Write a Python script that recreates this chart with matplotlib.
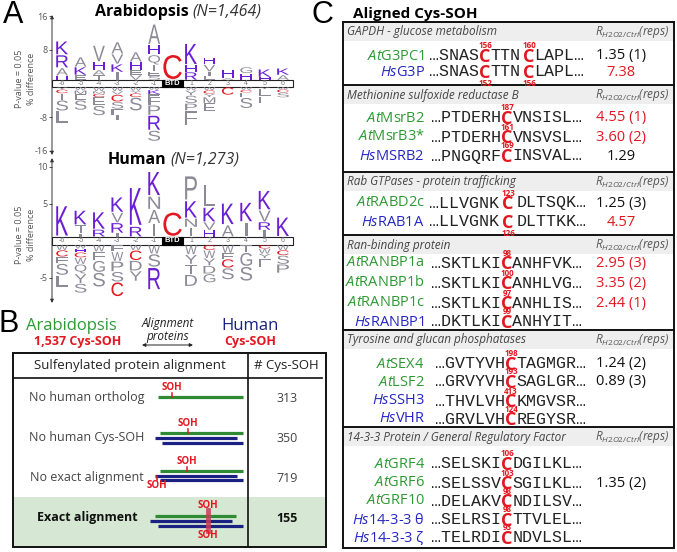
import matplotlib
matplotlib.use('Agg')
import matplotlib.pyplot as plt
from matplotlib.textpath import TextPath
from matplotlib.font_manager import FontProperties
from matplotlib.patches import PathPatch, Rectangle
from matplotlib.transforms import Affine2D

plt.rcParams['font.family'] = ['Open Sans', 'DejaVu Sans']
plt.rcParams['mathtext.fontset'] = 'custom'
plt.rcParams['mathtext.rm'] = 'Open Sans'
plt.rcParams['mathtext.it'] = 'Open Sans:italic'
plt.rcParams['mathtext.bf'] = 'Open Sans:bold'

# ---------------- data ----------------
positions = [-6, -5, -4, -3, -2, -1, 0, 1, 2, 3, 4, 5, 6]

# Arabidopsis logo (% difference), up stacks listed from baseline upward,
# down stacks listed from baseline downward
ath_up = [
    [('H', 1.0), ('A', 1.9), ('R', 3.1), ('K', 3.3)],
    [('E', 1.2), ('K', 1.9), ('A', 2.4)],
    [('T', 1.2), ('A', 1.2), ('H', 1.9), ('V', 4.0)],
    [('I', 1.9), ('K', 1.9), ('V', 2.4), ('A', 2.9)],
    [('V', 1.2), ('E', 1.2), ('H', 1.9), ('A', 2.4)],
    [('S', 1.0), ('E', 1.0), ('I', 1.6), ('Q', 2.4), ('H', 2.4), ('A', 5.0)],
    [('C', 6.2)],
    [('R', 1.9), ('H', 1.7), ('K', 5.2)],
    [('E', 1.0), ('I', 1.0), ('V', 1.7), ('H', 1.7)],
    [('A', 0.5), ('H', 1.9)],
    [('H', 1.6), ('G', 1.5)],
    [('H', 0.7), ('K', 1.9)],
    [('A', 1.2), ('K', 1.6)],
]
ath_down = [
    [('Y', 0.6), ('C', 0.9), ('I', 1.6), ('S', 2.6), ('L', 2.9)],
    [('W', 0.8), ('M', 0.9), ('E', 1.4), ('S', 2.4)],
    [('W', 1.0), ('M', 0.6), ('C', 0.8), ('E', 2.0), ('S', 2.4)],
    [('W', 1.0), ('V', 0.8), ('C', 1.7), ('S', 1.7), ('F', 1.4), ('I', 1.2)],
    [('W', 0.9), ('Y', 0.6), ('C', 0.9), ('S', 3.3)],
    [('W', 0.7), ('K', 1.0), ('E', 0.7), ('F', 1.9), ('P', 2.4), ('R', 3.6), ('S', 2.6)],
    [],
    [('W', 0.8), ('Y', 1.2), ('S', 1.9), ('P', 1.7), ('F', 3.6)],
    [('W', 0.8), ('C', 0.8), ('Y', 0.8), ('M', 1.4), ('E', 2.0)],
    [('C', 1.9)],
    [('W', 0.7), ('C', 0.6), ('E', 1.2), ('S', 2.6)],
    [('Y', 0.5), ('L', 1.7), ('F', 1.7)],
    [('W', 0.6), ('C', 0.7), ('S', 1.2)],
]

# Human logo (% difference)
hum_up = [
    [('K', 4.3)],
    [('I', 0.4), ('T', 1.2), ('K', 2.0)],
    [('R', 1.0), ('K', 2.4)],
    [('I', 0.5), ('R', 1.4), ('V', 1.4), ('K', 2.1)],
    [('R', 1.4), ('K', 5.4)],
    [('I', 1.8), ('A', 1.9), ('N', 1.8), ('K', 3.4)],
    [('C', 3.4)],
    [('I', 1.3), ('N', 1.2), ('K', 2.4), ('P', 3.4)],
    [('H', 0.9), ('V', 1.1), ('K', 2.0), ('L', 3.1)],
    [('A', 1.6), ('K', 3.0)],
    [('I', 2.0), ('K', 2.7)],
    [('I', 0.9), ('R', 1.1), ('V', 1.6), ('K', 2.7)],
    [('K', 2.7)],
]
hum_down = [
    [('W', 0.7), ('C', 0.9), ('F', 0.9), ('S', 1.6), ('L', 1.6)],
    [('W', 0.5), ('H', 0.5), ('C', 0.7), ('W', 0.9), ('Q', 1.3), ('Y', 1.3), ('S', 1.3)],
    [('W', 0.9), ('F', 1.2), ('G', 1.6), ('S', 2.0)],
    [('F', 0.9), ('W', 1.3), ('P', 1.4), ('S', 1.4), ('C', 2.0)],
    [('W', 0.7), ('C', 1.4), ('D', 1.4), ('Y', 1.4)],
    [('W', 1.2), ('S', 1.8), ('R', 3.1)],
    [],
    [('W', 1.3), ('Y', 1.3), ('T', 1.4), ('D', 1.6)],
    [('C', 0.7), ('W', 1.1), ('Y', 1.0), ('D', 1.1), ('G', 1.2)],
    [('W', 1.1), ('F', 0.8), ('C', 1.2), ('S', 1.6)],
    [('T', 1.0), ('G', 1.9), ('S', 2.0)],
    [('C', 0.5), ('W', 0.7), ('Y', 0.6), ('F', 1.2)],
    [('W', 0.7), ('C', 0.7), ('S', 1.2), ('P', 1.2)],
]

# Panel B table
b_rows = ["No human ortholog", "No human Cys-SOH", "No exact alignment", "Exact alignment"]
b_counts = [313, 350, 719, 155]

# Panel C
c_titles = ["GAPDH - glucose metabolism", "Methionine sulfoxide reductase B",
            "Rab GTPases - protein trafficking", "Ran-binding protein",
            "Tyrosine and glucan phosphatases", "14-3-3 Protein / General Regulatory Factor"]
c_names = [
    [("At", "G3PC1"), ("Hs", "G3P")],
    [("At", "MsrB2"), ("At", "MsrB3*"), ("Hs", "MSRB2")],
    [("At", "RABD2c"), ("Hs", "RAB1A")],
    [("At", "RANBP1a"), ("At", "RANBP1b"), ("At", "RANBP1c"), ("Hs", "RANBP1")],
    [("At", "SEX4"), ("At", "LSF2"), ("Hs", "SSH3"), ("Hs", "VHR")],
    [("At", "GRF4"), ("At", "GRF6"), ("At", "GRF10"), ("Hs", "14-3-3 θ"), ("Hs", "14-3-3 ζ")],
]
c_seqs = [
    ["…SNAS|TTN|LAPL…", "…SNAS|TTN|LAPL…"],
    ["…PTDERH|VNSISL…", "…PTDERH|VNSVSL…", "…PNGQRF|INSVAL…"],
    ["…LLVGNK|DLTSQK…", "…LLVGNK|DLTTKK…"],
    ["…SKTLKI|ANHFVK…", "…SKTLKI|ANHLVG…", "…SKTLKI|ANHLIS…", "…DKTLKI|ANHYIT…"],
    ["…GVTYVH|TAGMGR…", "…GRVYVH|SAGLGR…", "…THVLVH|KMGVSR…", "…GRVLVH|REGYSR…"],
    ["…SELSKI|DGILKL…", "…SELSSV|SGILKL…", "…DELAKV|NDILSV…", "…SELRSI|TTVLEL…", "…TELRDI|NDVLSL…"],
]
c_sites = [
    [["156", "160"], ["152", "156"]],
    [["187"], ["161"], ["169"]],
    [["123"], ["126"]],
    [["98"], ["100"], ["97"], ["99"]],
    [["198"], ["193"], ["413"], ["124"]],
    [["106"], ["103"], ["98"], ["98"], ["93"]],
]
c_values = [
    [("1.35 (1)", False), ("7.38", True)],
    [("4.55 (1)", True), ("3.60 (2)", True), ("1.29", False)],
    [("1.25 (3)", False), ("4.57", True)],
    [("2.95 (3)", True), ("3.35 (2)", True), ("2.44 (1)", True), ("", False)],
    [("1.24 (2)", False), ("0.89 (3)", False), ("", False), ("", False)],
    [("", False), ("1.35 (2)", False), ("", False), ("", False), ("", False)],
]

# ---------------- style ----------------
PURPLE = '#6a1fd4'
LGRAY = '#8d8a98'
RED = '#e2171f'
GREEN = '#2d9a34'
BLUE = '#2626c4'
NAVY = '#1b2083'
W, H = 677, 552

fig = plt.figure(figsize=(6.77, 5.52), dpi=100)
bg = fig.add_axes([0, 0, 1, 1])
bg.set_xlim(0, W)
bg.set_ylim(H, 0)
bg.axis('off')

LOGO_FONT = FontProperties(family='Liberation Sans')
_cache = {}


def letter_color(ch):
    if ch in 'KRH':
        return PURPLE
    if ch == 'C':
        return RED
    return LGRAY


def draw_letter(ax, ch, x, y0, w, h):
    if ch not in _cache:
        _cache[ch] = TextPath((0, 0), ch, size=1, prop=LOGO_FONT)
    p = _cache[ch]
    e = p.get_extents()
    if ch == 'I':
        w = w * 0.22
    tr = Affine2D().translate(-e.x0, -e.y0).scale(w / e.width, h / e.height).translate(x - w / 2, y0)
    ax.add_patch(PathPatch(tr.transform_path(p), fc=letter_color(ch), ec='none', lw=0, zorder=5))


def draw_logo(rect_px, ylim, ticks, band, up, down):
    x0, x1, y0, y1 = rect_px
    ax = fig.add_axes([x0 / W, 1 - y1 / H, (x1 - x0) / W, (y1 - y0) / H])
    ax.patch.set_alpha(0)
    ax.set_xlim(-6.55, 6.92)
    ax.set_ylim(*ylim)
    for s in ax.spines.values():
        s.set_visible(False)
    ax.set_xticks([])
    ax.set_yticks(ticks)
    ax.set_yticklabels([str(t) for t in ticks])
    ax.tick_params(axis='y', length=2, width=0.6, labelsize=6.5, labelcolor='#555555',
                   color='#333333', pad=1)
    ax.annotate('', xy=(-6.55, ylim[1]), xytext=(-6.55, ylim[0]),
                arrowprops=dict(arrowstyle='<|-|>', lw=0.7, color='#333333', mutation_scale=5,
                                shrinkA=0, shrinkB=0), annotation_clip=False)
    ax.add_patch(Rectangle((-6.55, -band), 13.1, 2 * band, fc='white', ec='#222222', lw=0.8, zorder=3))
    ax.add_patch(Rectangle((-0.55, -band), 1.1, 2 * band, fc='black', ec='black', lw=0.8, zorder=4))
    ax.text(0, 0, 'BTD', color='white', fontsize=5.5, fontweight='bold', ha='center', va='center', zorder=6,
            family=['Liberation Sans'])
    for i, p in enumerate(positions):
        if p != 0:
            ax.text(p, 0, str(p), color='#777777', fontsize=5, ha='center', va='center', zorder=6,
                    family=['Liberation Sans'])
        w = 1.0 if p == 0 else 0.64
        y = band
        for ch, h in up[i]:
            draw_letter(ax, ch, p, y + h * 0.04, w, h * 0.92)
            y += h
        y = -band
        for ch, h in down[i]:
            draw_letter(ax, ch, p, y - h + h * 0.04, w, h * 0.92)
            y -= h
    return ax


# ---------------- panel A ----------------
draw_logo((52, 300, 15, 155), (-17.0, 16.3), [16, 8, -8, -16], 0.83, ath_up, ath_down)
draw_logo((52, 300, 158, 303), (-8.4, 11.2), [10, 5, -5], 0.55, hum_up, hum_down)

bg.text(13, 15, 'A', fontsize=22, ha='center', va='center', family=['Liberation Sans'])
bg.text(189, 12, 'Arabidopsis', fontsize=11.5, fontweight='bold', ha='right', va='center')
bg.text(192, 12, '(N=1,464)', fontsize=11.5, fontstyle='italic', ha='left', va='center', color='#333333')
bg.text(166, 160, 'Human', fontsize=11.5, fontweight='bold', ha='right', va='center')
bg.text(170, 160, '(N=1,273)', fontsize=11.5, fontstyle='italic', ha='left', va='center', color='#333333')
for yc in (79, 235):
    bg.text(19, yc, 'P-value = 0.05', fontsize=6.5, rotation=90, ha='center', va='center', color='#555555')
    bg.text(31, yc, '% difference', fontsize=6.5, rotation=90, ha='center', va='center', color='#555555')

# ---------------- panel B ----------------
bg.text(9, 324, 'B', fontsize=22, ha='center', va='center', family=['Liberation Sans'])
bg.text(71, 326, 'Arabidopsis', fontsize=12, color=GREEN, ha='center', va='center')
bg.text(78, 342, '1,537 Cys-SOH', fontsize=9, color=RED, fontweight='bold', ha='center', va='center')
bg.text(168, 330, 'Alignment\nproteins', fontsize=8.5, fontstyle='italic', ha='center', va='center',
        linespacing=0.95, color='#222222')
bg.annotate('', xy=(142, 345), xytext=(193, 345),
            arrowprops=dict(arrowstyle='<|-|>', lw=0.7, color='#222222', mutation_scale=5, shrinkA=0, shrinkB=0))
bg.text(250, 326, 'Human', fontsize=12, color=NAVY, ha='center', va='center')
bg.text(250, 342, 'Cys-SOH', fontsize=9, color=RED, fontweight='bold', ha='center', va='center')

bg.add_patch(Rectangle((13, 497), 313, 50, fc='#d6e8d3', ec='none', zorder=1))
bg.add_patch(Rectangle((13, 353), 313, 194, fc='none', ec='#111111', lw=1.4, zorder=3))
bg.plot([248, 248], [353, 547], color='#111111', lw=1.2, zorder=3)
bg.plot([13, 322], [378, 378], color='#111111', lw=1.2, zorder=3)
bg.text(130, 366, 'Sulfenylated protein alignment', fontsize=9.5, ha='center', va='center', color='#222222')
bg.text(286, 366, '# Cys-SOH', fontsize=9.5, ha='center', va='center', color='#222222')

row_y = [398, 438, 478, 518]
for i, (lab, cnt) in enumerate(zip(b_rows, b_counts)):
    bold = (i == 3)
    bg.text(87, row_y[i], lab, fontsize=9, ha='center', va='center',
            color='#111111' if bold else '#444444', fontweight='bold' if bold else 'normal')
    bg.text(287, row_y[i], str(cnt), fontsize=9, ha='center', va='center',
            color='#111111' if bold else '#444444', fontweight='bold' if bold else 'normal')


def soh(x, y_line, y_txt, up=True):
    bg.plot([x, x], [y_line - 4, y_line] if up else [y_line, y_line + 4], color=RED, lw=1.1, zorder=4)
    bg.text(x, y_txt, 'SOH', fontsize=7, fontweight='bold', color=RED, ha='center', va='center', zorder=4)


def seg(x0, x1, y, c):
    bg.plot([x0, x1], [y, y], color=c, lw=2.3, solid_capstyle='butt', zorder=3)


seg(158, 243, 397, '#2e8b34')
soh(172, 397, 388)
seg(160, 243, 433, '#2e8b34')
seg(155, 237, 438, NAVY)
seg(162, 243, 443, NAVY)
soh(188, 433, 424)
seg(160, 243, 471, '#2e8b34')
seg(155, 237, 476, NAVY)
seg(160, 243, 480, NAVY)
soh(187, 471, 462)
soh(157, 476, 486, up=False)
seg(155, 236, 516, '#2e8b34')
seg(150, 232, 521, NAVY)
seg(158, 243, 526, NAVY)
bg.plot([208, 208], [510, 531], color='#cc3a5a', lw=3.5, alpha=0.85, zorder=4)
bg.text(208, 506, 'SOH', fontsize=7, fontweight='bold', color=RED, ha='center', va='center', zorder=4)
bg.text(208, 536, 'SOH', fontsize=7, fontweight='bold', color=RED, ha='center', va='center', zorder=4)

# ---------------- panel C ----------------
bg.text(322, 15, 'C', fontsize=22, ha='center', va='center', family=['Liberation Sans'])
bg.text(353, 14, 'Aligned Cys-SOH', fontsize=11, fontweight='bold', ha='left', va='center')

sec_lines = [22, 85, 172, 235, 330, 427, 548]
sec_rows = [[56, 72], [118, 137, 156], [203, 222], [263, 283, 303, 322],
            [364, 382, 401, 419], [464, 483, 501, 520, 538]]
sec_cx = [[485, 529], [507], [508], [507], [511], [507]]
sec_gap = [5.5, 5.5, 9, 5.5, 5.5, 5.5]
below_site = {(0, 1), (2, 1)}
CL, CR = 343, 674
MONO = ['Liberation Mono']

for s in range(6):
    top = sec_lines[s]
    bg.add_patch(Rectangle((CL, top), CR - CL, 19, fc='#eeeeee', ec='none', zorder=1))
    bg.text(CL + 4, top + 10, c_titles[s], fontsize=8.5, fontstyle='italic', color='#444444',
            ha='left', va='center')
    bg.text(632, top + 10, r'$\mathit{R}_{\mathit{H2O2/Ctrl}}$(reps)', fontsize=8.5, fontstyle='italic',
            color='#555555', ha='center', va='center')
    bg.plot([CL, CR], [top, top], color='#111111', lw=1.4, zorder=3)
    cxs = sec_cx[s]
    g = sec_gap[s]
    for r, y in enumerate(sec_rows[s]):
        sp, rest = c_names[s][r]
        col = GREEN if sp == 'At' else BLUE
        bg.text(425, y, r'$\mathit{%s}$' % sp + rest, fontsize=10.5, color=col, ha='right', va='center')
        parts = c_seqs[s][r].split('|')
        bg.text(cxs[0] - g, y, parts[0], fontsize=12, family=MONO, color='#222222', ha='right', va='center')
        for k, cx in enumerate(cxs):
            bg.text(cx, y + 1, 'C', fontsize=13, fontweight='bold', color=RED, ha='center', va='center', zorder=4)
            bg.text(cx + g, y, parts[k + 1], fontsize=12, family=MONO, color='#222222', ha='left', va='center')
            dy = 11 if (s, r) in below_site else -10
            bg.text(cx, y + dy, c_sites[s][r][k], fontsize=5.8, fontweight='bold', color=RED,
                    ha='center', va='center', zorder=5)
        val, sig = c_values[s][r]
        if val:
            bg.text(621, y, val, fontsize=10.5, color=RED if sig else '#111111', ha='center', va='center')
bg.add_patch(Rectangle((CL, 22), CR - CL, 548 - 22, fc='none', ec='#111111', lw=1.4, zorder=3))

fig.savefig('out.png', dpi=100)
